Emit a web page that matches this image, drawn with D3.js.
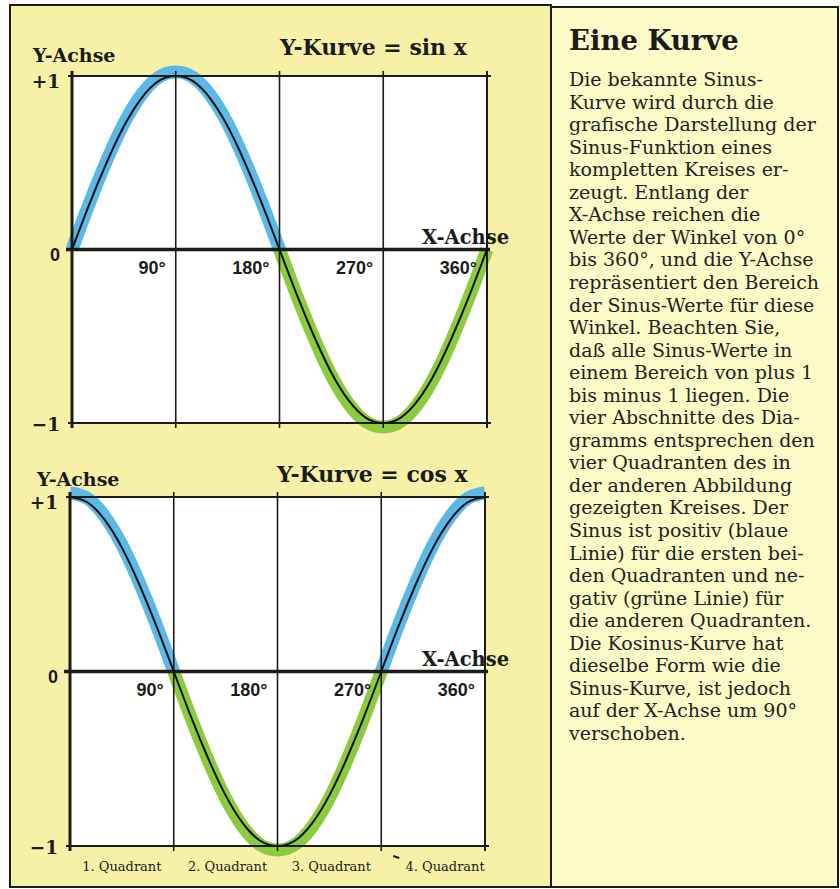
<!DOCTYPE html>
<html>
<head>
<meta charset="utf-8">
<script src="https://cdn.jsdelivr.net/npm/d3@7"></script>
<style>
  html, body { margin: 0; padding: 0; background: #ffffff; }
  svg { display: block; }
</style>
</head>
<body>
<script>
// Sampled angles (degrees) and curve values
const angles = [0, 15, 30, 45, 60, 75, 90, 105, 120, 135, 150, 165, 180,
                195, 210, 225, 240, 255, 270, 285, 300, 315, 330, 345, 360];
const sinValues = [0, 0.26, 0.5, 0.71, 0.87, 0.97, 1, 0.97, 0.87, 0.71, 0.5, 0.26, 0,
                   -0.26, -0.5, -0.71, -0.87, -0.97, -1, -0.97, -0.87, -0.71, -0.5, -0.26, 0];
const cosValues = [1, 0.97, 0.87, 0.71, 0.5, 0.26, 0, -0.26, -0.5, -0.71, -0.87, -0.97, -1,
                   -0.97, -0.87, -0.71, -0.5, -0.26, 0, 0.26, 0.5, 0.71, 0.87, 0.97, 1];

const xTickValues = [90, 180, 270, 360];
const xTickLabels = ["90°", "180°", "270°", "360°"];
const yTickValues = [1, 0, -1];
const yTickLabels = ["+1", "0", "−1"];
const quadrantLabels = ["1. Quadrant", "2. Quadrant", "3. Quadrant", "4. Quadrant"];
const chartTitles = ["Y-Kurve = sin x", "Y-Kurve = cos x"];
const axisNames = ["Y-Achse", "X-Achse"];

const noteTitle = "Eine Kurve";
const noteLines = [
  "Die bekannte Sinus-",
  "Kurve wird durch die",
  "grafische Darstellung der",
  "Sinus-Funktion eines",
  "kompletten Kreises er-",
  "zeugt. Entlang der",
  "X-Achse reichen die",
  "Werte der Winkel von 0°",
  "bis 360°, und die Y-Achse",
  "repräsentiert den Bereich",
  "der Sinus-Werte für diese",
  "Winkel. Beachten Sie,",
  "daß alle Sinus-Werte in",
  "einem Bereich von plus 1",
  "bis minus 1 liegen. Die",
  "vier Abschnitte des Dia-",
  "gramms entsprechen den",
  "vier Quadranten des in",
  "der anderen Abbildung",
  "gezeigten Kreises. Der",
  "Sinus ist positiv (blaue",
  "Linie) für die ersten bei-",
  "den Quadranten und ne-",
  "gativ (grüne Linie) für",
  "die anderen Quadranten.",
  "Die Kosinus-Kurve hat",
  "dieselbe Form wie die",
  "Sinus-Kurve, ist jedoch",
  "auf der X-Achse um 90°",
  "verschoben."
];

const W = 840, H = 889;
const INK = "#1b1b1b";
const BLUE = "#5cb8e6";
const GREEN = "#8ccb3e";
const SLAB = "'DejaVu Serif', serif";
const SANS = "'Liberation Sans', Arial, sans-serif";

const svg = d3.select("body").append("svg")
  .attr("width", W).attr("height", H)
  .attr("viewBox", `0 0 ${W} ${H}`);

// Panels: chart panel and text panel
svg.append("rect").attr("x", 10).attr("y", 5).attr("width", 541).attr("height", 882)
  .attr("fill", "#f6f1a6").attr("stroke", INK).attr("stroke-width", 2);
svg.append("rect").attr("x", 551).attr("y", 7).attr("width", 287).attr("height", 880)
  .attr("fill", "#fcfac6").attr("stroke", INK).attr("stroke-width", 2);

const charts = [
  { values: sinValues, title: chartTitles[0], xRange: [72, 487], yRange: [423, 76],
    titleX: 280, titleDy: -21, yNameX: 33, yNameDy: -14, quadrants: false },
  { values: cosValues, title: chartTitles[1], xRange: [70, 485], yRange: [846, 497],
    titleX: 277, titleDy: -15, yNameX: 37, yNameDy: -11, quadrants: true }
];

const defs = svg.append("defs");

charts.forEach((c, i) => {
  const x = d3.scaleLinear().domain([0, 360]).range(c.xRange);
  const y = d3.scaleLinear().domain([-1, 1]).range(c.yRange);
  const g = svg.append("g");
  const data = angles.map((a, k) => ({ a, v: c.values[k] }));

  // white plotting field
  g.append("rect")
    .attr("x", x(0)).attr("y", y(1))
    .attr("width", x(360) - x(0)).attr("height", y(-1) - y(1))
    .attr("fill", "#ffffff");

  // clip regions for the positive (blue) and negative (green) halves of the band
  defs.append("clipPath").attr("id", `pos${i}`).append("rect")
    .attr("x", x(0) - 20).attr("y", y(1) - 30)
    .attr("width", x(360) - x(0) + 40).attr("height", y(0) - y(1) + 30);
  defs.append("clipPath").attr("id", `neg${i}`).append("rect")
    .attr("x", x(0) - 20).attr("y", y(0))
    .attr("width", x(360) - x(0) + 40).attr("height", y(-1) - y(0) + 30);

  const band = d3.line()
    .x(d => x(d.a))
    .y(d => y(d.v) - 4 * d.v)
    .curve(d3.curveNatural);
  const curve = d3.line()
    .x(d => x(d.a))
    .y(d => y(d.v))
    .curve(d3.curveNatural);

  g.append("path").datum(data).attr("d", band)
    .attr("fill", "none").attr("stroke", BLUE).attr("stroke-width", 13)
    .attr("clip-path", `url(#pos${i})`);
  g.append("path").datum(data).attr("d", band)
    .attr("fill", "none").attr("stroke", GREEN).attr("stroke-width", 13)
    .attr("clip-path", `url(#neg${i})`);

  // vertical grid lines at each quadrant boundary
  g.selectAll("line.grid").data(xTickValues).join("line")
    .attr("class", "grid")
    .attr("x1", d => x(d)).attr("x2", d => x(d))
    .attr("y1", y(1) - 5).attr("y2", y(-1) + 5)
    .attr("stroke", INK).attr("stroke-width", d => d === 360 ? 2 : 1.6);

  // +1 and -1 frame lines
  g.selectAll("line.hframe").data([1, -1]).join("line")
    .attr("class", "hframe")
    .attr("x1", x(0) - 4).attr("x2", x(360) + 4)
    .attr("y1", d => y(d)).attr("y2", d => y(d))
    .attr("stroke", INK).attr("stroke-width", 2);

  // Y axis
  g.append("line")
    .attr("x1", x(0)).attr("x2", x(0))
    .attr("y1", y(1) - 5).attr("y2", y(-1) + 5)
    .attr("stroke", INK).attr("stroke-width", 3);

  // X axis (zero line)
  g.append("line")
    .attr("x1", x(0) - 6).attr("x2", x(360) + 3)
    .attr("y1", y(0)).attr("y2", y(0))
    .attr("stroke", INK).attr("stroke-width", 3.5);

  // black function curve
  g.append("path").datum(data).attr("d", curve)
    .attr("fill", "none").attr("stroke", "#111").attr("stroke-width", 2);

  // Y tick labels
  const yDy = { "1": 12, "0": 11, "-1": 8 };
  g.selectAll("text.ytick").data(yTickValues).join("text")
    .attr("class", "ytick")
    .attr("x", x(0) - 12)
    .attr("y", d => y(d) + yDy[String(d)])
    .attr("text-anchor", "end")
    .attr("font-family", (d) => d === 0 ? SANS : SLAB)
    .attr("font-weight", "bold")
    .attr("font-size", d => d === 0 ? 18 : 18.5)
    .attr("fill", INK)
    .text((d, k) => yTickLabels[k]);

  // X tick labels
  g.selectAll("text.xtick").data(xTickValues).join("text")
    .attr("class", "xtick")
    .attr("x", d => x(d) - 10)
    .attr("y", y(0) + 24)
    .attr("text-anchor", "end")
    .attr("font-family", SANS).attr("font-weight", "bold").attr("font-size", 18)
    .attr("fill", INK)
    .text((d, k) => xTickLabels[k]);

  // axis names and title
  g.append("text")
    .attr("x", c.yNameX).attr("y", y(1) + c.yNameDy)
    .attr("font-family", SLAB).attr("font-weight", "bold").attr("font-size", 19)
    .attr("fill", INK).text(axisNames[0]);
  g.append("text")
    .attr("x", 422).attr("y", y(0) - 6)
    .attr("font-family", SLAB).attr("font-weight", "bold").attr("font-size", 19.5)
    .attr("fill", INK).text(axisNames[1]);
  g.append("text")
    .attr("x", c.titleX).attr("y", y(1) + c.titleDy)
    .attr("font-family", SLAB).attr("font-weight", "bold").attr("font-size", 22)
    .attr("fill", INK).text(c.title);

  if (c.quadrants) {
    const qShift = [0, 2, 2, 12];
    g.selectAll("text.quad").data(quadrantLabels).join("text")
      .attr("class", "quad")
      .attr("x", (d, k) => (x(k * 90) + x((k + 1) * 90)) / 2 + qShift[k])
      .attr("y", y(-1) + 25)
      .attr("text-anchor", "middle")
      .attr("font-family", SLAB).attr("font-size", 13)
      .attr("fill", INK)
      .text(d => d);
    // small stray printing mark beside the last label
    g.append("line")
      .attr("x1", x(270) + 12).attr("x2", x(270) + 18)
      .attr("y1", y(-1) + 10).attr("y2", y(-1) + 12)
      .attr("stroke", INK).attr("stroke-width", 2);
  }
});

// Text panel
const note = svg.append("g");
note.append("text")
  .attr("x", 569).attr("y", 50)
  .attr("font-family", SLAB).attr("font-weight", "bold").attr("font-size", 27.5)
  .attr("fill", INK).text(noteTitle);
note.selectAll("text.line").data(noteLines).join("text")
  .attr("class", "line")
  .attr("x", 569)
  .attr("y", (d, k) => 86 + k * 22.55)
  .attr("font-family", SLAB).attr("font-size", 19)
  .attr("fill", "#222").text(d => d);
</script>
</body>
</html>
